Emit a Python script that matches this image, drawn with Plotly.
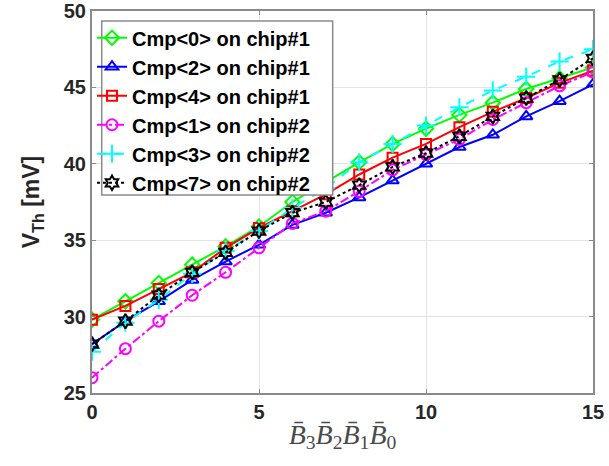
import plotly.graph_objects as go

x_codes = list(range(16))

cmp0_chip1 = [29.8, 31.0, 32.2, 33.4, 34.6, 35.9, 37.5, 38.8, 40.1, 41.3, 42.3, 43.2, 44.0, 44.9, 45.6, 46.3]
cmp2_chip1 = [28.2, 29.7, 31.0, 32.4, 33.6, 34.7, 36.0, 36.8, 37.8, 38.9, 40.0, 41.1, 41.9, 43.1, 44.1, 45.2]
cmp4_chip1 = [29.8, 30.7, 31.8, 32.9, 34.5, 35.8, 36.9, 38.0, 39.3, 40.4, 41.3, 42.4, 43.4, 44.3, 45.3, 46.1]
cmp1_chip2 = [26.0, 27.9, 29.7, 31.4, 32.9, 34.5, 36.1, 36.9, 38.2, 39.6, 40.6, 41.6, 42.9, 44.0, 45.1, 46.0]
cmp3_chip2 = [27.7, 29.6, 31.1, 32.8, 34.3, 35.6, 37.1, 38.4, 40.1, 41.3, 42.5, 43.7, 44.8, 45.7, 46.7, 47.5]
cmp7_chip2 = [28.2, 29.7, 31.4, 32.9, 34.2, 35.6, 36.8, 37.5, 38.6, 39.8, 40.7, 41.8, 43.1, 44.3, 45.5, 46.9]

names = ["Cmp&lt;0&gt; on chip#1", "Cmp&lt;2&gt; on chip#1", "Cmp&lt;4&gt; on chip#1",
         "Cmp&lt;1&gt; on chip#2", "Cmp&lt;3&gt; on chip#2", "Cmp&lt;7&gt; on chip#2"]
series = [cmp0_chip1, cmp2_chip1, cmp4_chip1, cmp1_chip2, cmp3_chip2, cmp7_chip2]
colors = ["#00ff00", "#0000ff", "#ff0000", "#ff00ff", "#00ffff", "#000000"]
dashes = ["solid", "solid", "solid", "dashdot", "dash", "dot"]
symbols = ["diamond-open", "triangle-up-open", "square-open", "circle-open", "cross-thin-open", "hexagram-open"]
sizes = [11, 11, 10, 11, 13, 11]

fig = go.Figure()
for n, y, c, d, s, sz in zip(names, series, colors, dashes, symbols, sizes):
    fig.add_trace(go.Scatter(
        x=x_codes, y=y, name=n, mode="lines+markers",
        line=dict(color=c, width=2, dash=d),
        marker=dict(symbol=s, size=sz, color=c, line=dict(color=c, width=2)),
    ))

tick_font = dict(family="Liberation Sans, Arial", size=20, color="#262626", weight="bold")
axis_common = dict(
    showgrid=True, gridcolor="#e3e3e3", gridwidth=1,
    showline=True, linecolor="#8a8a8a", linewidth=2, mirror="ticks",
    ticks="inside", ticklen=4, tickcolor="#8a8a8a",
    tickfont=tick_font, zeroline=False, automargin=False,
    ticklabeloverflow="allow",
)

# legend frame (white box behind the legend entries)
fig.add_shape(type="rect", xref="paper", yref="paper",
              x0=0.0194, x1=0.4804, y0=0.518, y1=0.9738,
              fillcolor="white", line=dict(color="#8a8a8a", width=1.5), layer="above")

fig.update_layout(
    width=609, height=466,
    margin=dict(l=92, r=16, t=11, b=73),
    paper_bgcolor="white", plot_bgcolor="white",
    xaxis=dict(range=[0, 15], tickvals=[0, 5, 10, 15], **axis_common,
               title=dict(text="<i>B̄</i><sub>3</sub><i>B̄</i><sub>2</sub><i>B̄</i><sub>1</sub><i>B̄</i><sub>0</sub>",
                          font=dict(family="Liberation Serif, Times New Roman", size=28, color="#4a4a4a"),
                          standoff=2)),
    yaxis=dict(range=[25, 50], tickvals=[25, 30, 35, 40, 45, 50], **axis_common,
               title=dict(text="V<sub>Th</sub> [mV]",
                          font=dict(family="Liberation Sans, Arial", size=23, color="#262626", weight="bold"),
                          standoff=18)),
    legend=dict(x=0.0, y=0.981, xanchor="left", yanchor="top",
                bgcolor="rgba(0,0,0,0)", borderwidth=0,
                font=dict(family="Liberation Sans, Arial", size=20, color="#000000", weight="bold"),
                itemwidth=30, tracegroupgap=0),
    showlegend=True,
)

fig.write_html("out.html", config={"displayModeBar": False},
               post_script="document.body.style.margin='0';document.body.style.padding='0';")
